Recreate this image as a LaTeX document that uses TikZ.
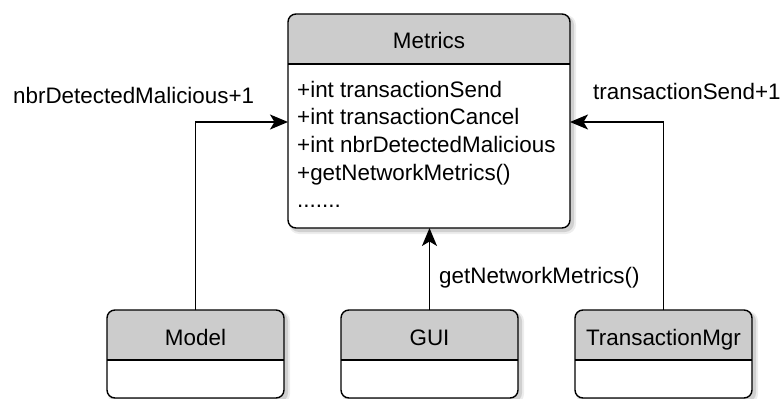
\documentclass[tikz,border=0pt]{standalone}
\usepackage{fontspec}
\setmainfont{Liberation Sans}
\usetikzlibrary{arrows.meta}
\definecolor{hdr}{RGB}{204,204,204}
\tikzset{
  clsbox/.style={inner sep=0pt, outer sep=0pt, rectangle},
  boxline/.style={draw=black, line width=1.4pt},
  conn/.style={draw=black, line width=1.5pt, -{Stealth[length=18pt,width=15pt,inset=4.5pt]}},
  txt/.style={inner sep=0pt, font=\fontsize{22.4pt}{27.7pt}\selectfont},
}
\begin{document}
\begin{tikzpicture}[x=1pt,y=-1pt]
\useasboundingbox (0,0) rectangle (780,399);
% class boxes (geometry)
\node[clsbox, minimum width=282pt, minimum height=214pt] (metrics) at (429,121) {};
\node[clsbox, minimum width=177pt, minimum height=88pt] (model) at (195.5,354) {};
\node[clsbox, minimum width=177pt, minimum height=88pt] (gui) at (429.5,354) {};
\node[clsbox, minimum width=177pt, minimum height=88pt] (tmgr) at (663.5,354) {};
\foreach \n in {metrics,model,gui,tmgr}{
  \fill[black, opacity=0.07, rounded corners=10pt] ([shift={(1pt,-6pt)}]\n.south west) rectangle ([shift={(6pt,-1pt)}]\n.north east);
  \fill[black, opacity=0.12, rounded corners=9pt] ([shift={(2pt,-4pt)}]\n.south west) rectangle ([shift={(4pt,-2pt)}]\n.north east);
  \fill[white, rounded corners=8pt] (\n.south west) rectangle (\n.north east);
  \begin{scope}
    \clip[rounded corners=8pt] (\n.south west) rectangle (\n.north east);
    \fill[hdr] (\n.north west) rectangle ([yshift=-50pt]\n.north east);
  \end{scope}
  \draw[boxline] ([yshift=-50pt]\n.north west) -- ([yshift=-50pt]\n.north east);
  \draw[boxline, rounded corners=8pt] (\n.south west) rectangle (\n.north east);
}
% texts
\node[txt, anchor=base] (metricsT) at (429,48) {Metrics};
\node[txt, anchor=base west] (m1) at (297,97) {+int transactionSend};
\node[txt, anchor=base west] (m2) at (297,124.7) {+int transactionCancel};
\node[txt, anchor=base west] (m3) at (297,152.4) {+int nbrDetectedMalicious};
\node[txt, anchor=base west] (m4) at (297,180.1) {+getNetworkMetrics()};
\node[txt, anchor=base west] (m5) at (297,207.8) {.......};
\node[txt, anchor=base] (modelT) at (195.5,345) {Model};
\node[txt, anchor=base] (guiT) at (429.5,345) {GUI};
\node[txt, anchor=base] (tmgrT) at (663.5,345) {TransactionMgr};
% labels
\node[txt, anchor=base west] (lblL) at (13,103) {nbrDetectedMalicious+1};
\node[txt, anchor=base west] (lblR) at (593,99) {transactionSend+1};
\node[txt, anchor=base west] (lblM) at (439,283) {getNetworkMetrics()};
% connectors
\draw[conn] (model.north) |- ([yshift=-1pt]metrics.west);
\draw[conn] (tmgr.north) |- ([yshift=-1pt]metrics.east);
\draw[conn] (gui.north) -- (gui.north |- metrics.south);
\end{tikzpicture}
\end{document}
